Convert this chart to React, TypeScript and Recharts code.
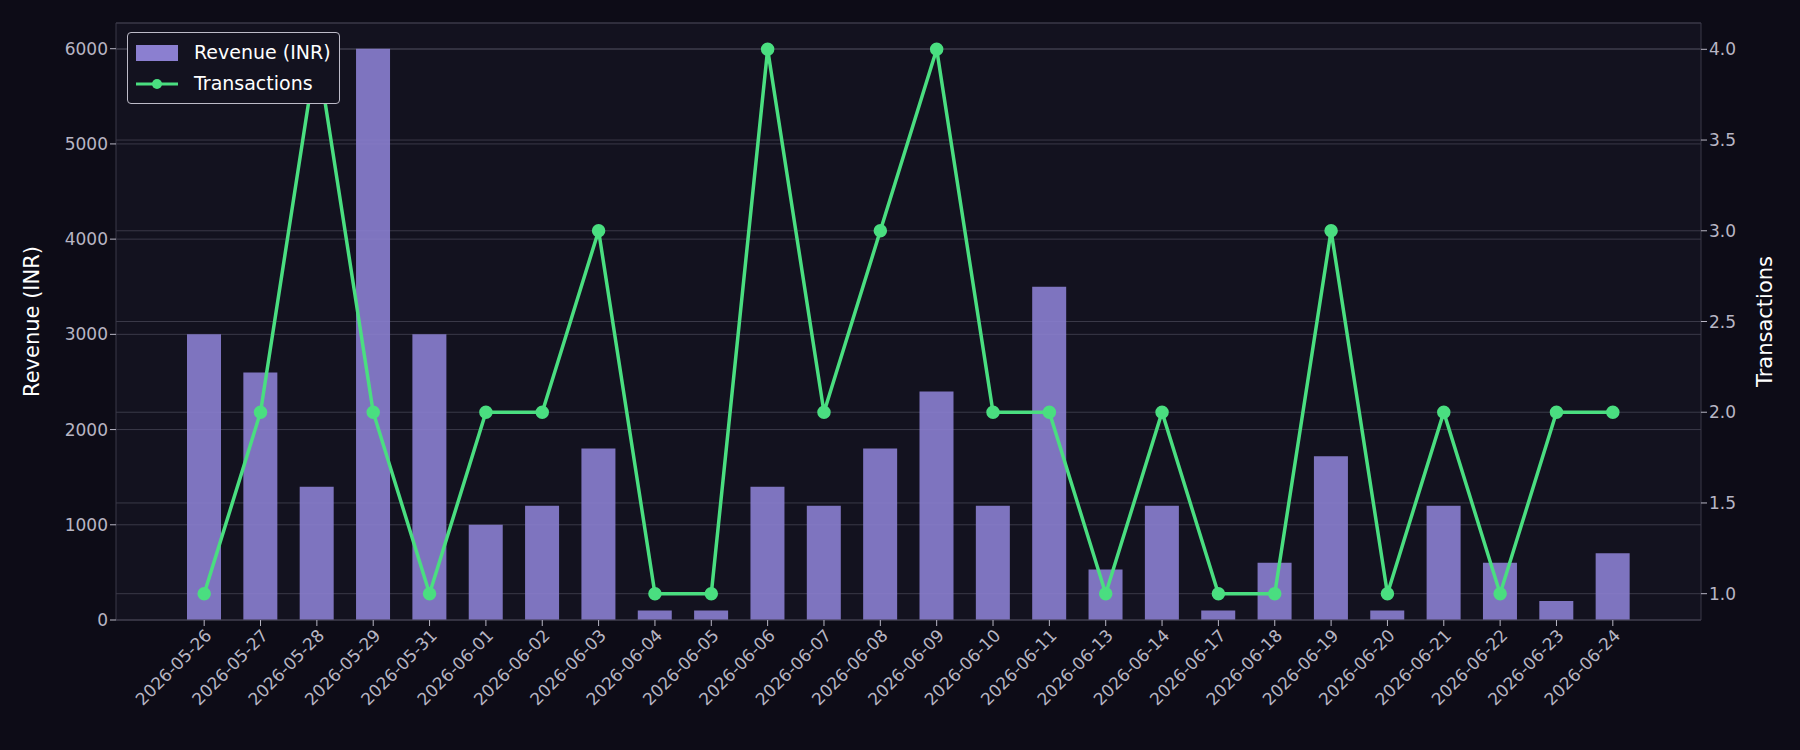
import { ComposedChart, Bar, Line, XAxis, YAxis, CartesianGrid } from 'recharts';

const dates = [
  '2026-05-26', '2026-05-27', '2026-05-28', '2026-05-29', '2026-05-31', '2026-06-01',
  '2026-06-02', '2026-06-03', '2026-06-04', '2026-06-05', '2026-06-06', '2026-06-07',
  '2026-06-08', '2026-06-09', '2026-06-10', '2026-06-11', '2026-06-13', '2026-06-14',
  '2026-06-17', '2026-06-18', '2026-06-19', '2026-06-20', '2026-06-21', '2026-06-22',
  '2026-06-23', '2026-06-24',
];
const revenue = [
  3000, 2600, 1400, 6000, 3000, 1000, 1200, 1800, 100, 100, 1400, 1200,
  1800, 2400, 1200, 3500, 530, 1200, 100, 600, 1720, 100, 1200, 600, 200, 700,
];
const transactions = [
  1, 2, 4, 2, 1, 2, 2, 3, 1, 1, 4, 2, 3, 4, 2, 2, 1, 2, 1, 1, 3, 1, 2, 1, 2, 2,
];
const revenueTicks = [0, 1000, 2000, 3000, 4000, 5000, 6000];
const txTicks = [1.0, 1.5, 2.0, 2.5, 3.0, 3.5, 4.0];

const data = dates.map((d, i) => ({ date: d, revenue: revenue[i], tx: transactions[i] }));

const FONT = 'DejaVu Sans, sans-serif';
const TICK = { fill: '#b8b6c4', fontSize: 17, fontFamily: FONT };
const BAR = '#8b7fd0';
const LINE = '#4ade80';

function LegendBox() {
  return (
    <div style={{
      position: 'absolute', left: 127, top: 32,
      border: '1.5px solid #bdbbc8', borderRadius: 4, background: '#13121f',
      padding: '4px 8px', fontFamily: FONT, fontSize: 19, color: '#ffffff', lineHeight: '31px',
    }}>
      <div style={{ display: 'flex', alignItems: 'center' }}>
        <span style={{ width: 42, height: 16, background: BAR, display: 'inline-block', marginRight: 16 }} />
        Revenue (INR)
      </div>
      <div style={{ display: 'flex', alignItems: 'center' }}>
        <svg width={42} height={12} style={{ marginRight: 16 }}>
          <line x1={0} y1={6} x2={42} y2={6} stroke={LINE} strokeWidth={3} />
          <circle cx={21} cy={6} r={5} fill={LINE} />
        </svg>
        Transactions
      </div>
    </div>
  );
}

export default function App() {
  return (
    <div style={{ position: 'absolute', left: 0, top: 0, width: 1800, height: 750, background: '#0d0c17' }}>
      <ComposedChart width={1800} height={750} data={data} margin={{ top: 23, right: 0, bottom: 0, left: 0 }}>
        <CartesianGrid yAxisId="left" vertical={false} stroke="#3a3948" fill="#13121f" />
        <CartesianGrid yAxisId="right" vertical={false} stroke="#3a3948" />
        <XAxis
          dataKey="date" height={130} interval={0} angle={-45} textAnchor="end"
          tick={TICK} stroke="#3a3948" tickLine={{ stroke: '#b8b6c4' }}
          padding={{ left: 60, right: 60 }}
        />
        <YAxis
          yAxisId="left" width={116} domain={[0, 6270]} ticks={revenueTicks}
          tick={TICK} stroke="#3a3948" tickLine={{ stroke: '#b8b6c4' }}
          label={{ value: 'Revenue (INR)', angle: -90, position: 'insideLeft', offset: 32, fill: '#ffffff', fontSize: 21, fontFamily: FONT, style: { textAnchor: 'middle' } }}
        />
        <YAxis
          yAxisId="right" orientation="right" width={99} domain={[0.855, 4.145]} ticks={txTicks}
          tickFormatter={(v: number) => v.toFixed(1)}
          tick={TICK} stroke="#3a3948" tickLine={{ stroke: '#b8b6c4' }}
          label={{ value: 'Transactions', angle: -90, position: 'insideRight', offset: 35, fill: '#ffffff', fontSize: 21, fontFamily: FONT, style: { textAnchor: 'middle' } }}
        />
        <Bar yAxisId="left" dataKey="revenue" fill={BAR} fillOpacity={0.9} barSize={34} isAnimationActive={false} />
        <Line
          yAxisId="right" dataKey="tx" stroke={LINE} strokeWidth={3.5}
          dot={{ r: 5, fill: LINE, stroke: LINE }} activeDot={false} isAnimationActive={false}
        />
      </ComposedChart>
      <LegendBox />
    </div>
  );
}
